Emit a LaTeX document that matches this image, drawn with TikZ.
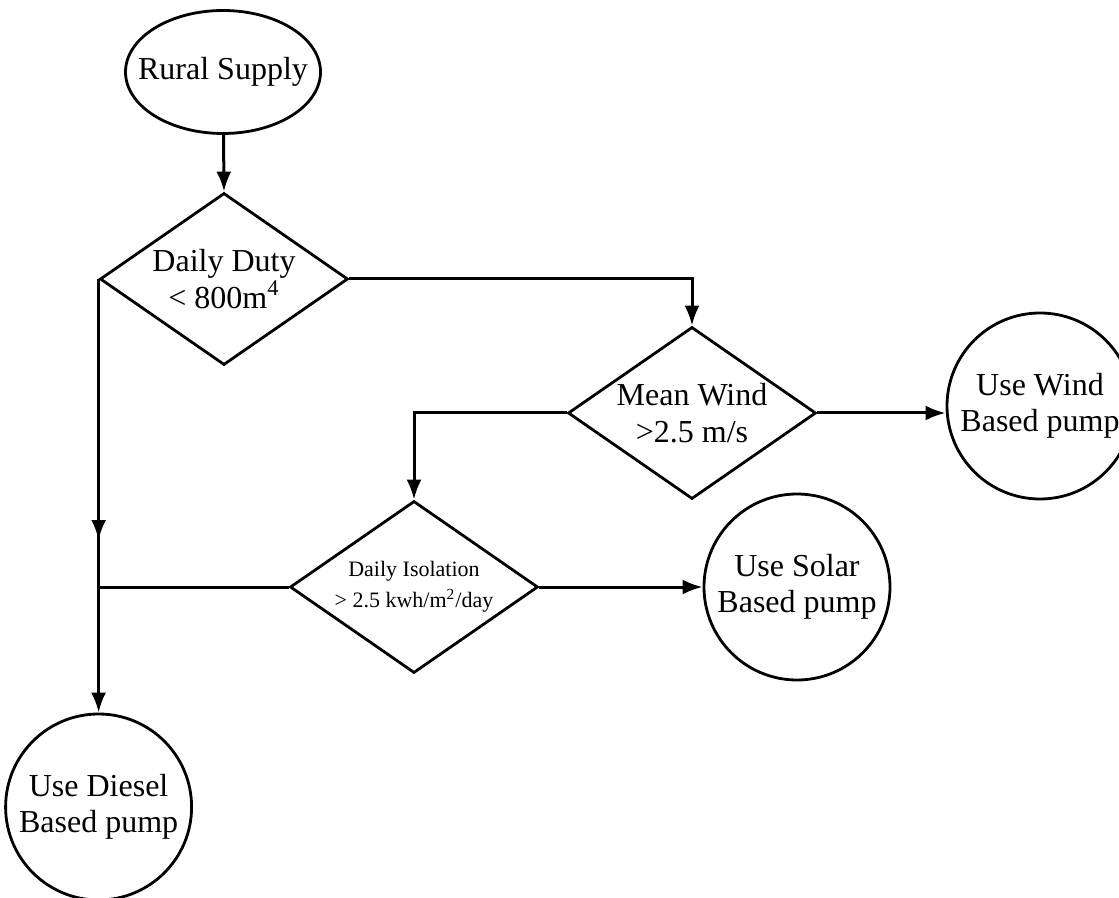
\documentclass[tikz,border=0pt]{standalone}
\usepackage{fontspec}
\setmainfont{Liberation Serif}
\usetikzlibrary{shapes,arrows.meta,positioning}

\begin{document}
\begin{tikzpicture}[x=0.5pt,y=-0.5pt,
  supply/.style={draw,ellipse,line width=1.4pt,minimum width=97.5pt,minimum height=61.5pt,inner xsep=-8pt,inner ysep=0pt,font=\fontsize{16}{18}\selectfont},
  decision/.style={draw,diamond,aspect=1.44,line width=1.4pt,minimum width=124pt,minimum height=86pt,inner sep=0pt,align=center,font=\fontsize{16}{18.5}\selectfont},
  pump/.style={draw,circle,line width=1.4pt,minimum size=93pt,inner sep=0pt,align=center,font=\fontsize{16}{18}\selectfont},
  flow/.style={line width=1.5pt,-{Latex[length=10pt,width=7.5pt]}},
  link/.style={line width=1.5pt}]
\useasboundingbox (0,0) rectangle (1119,898);
\node[supply] (S) at (223,72) {Rural Supply};
\node[decision] (D1) at (224,279) {Daily Duty\\< 800m\textsuperscript{4}};
\node[decision] (D2) at (692,413) {Mean Wind\\>2.5 m/s};
\node[decision,font=\fontsize{11}{15.5}\selectfont] (D3) at (414,587) {Daily Isolation\\> 2.5 kwh/m\textsuperscript{2}/day};
\node[pump] (P1) at (1040,406) {Use Wind\\Based pump};
\node[pump] (P2) at (797,587) {Use Solar\\Based pump};
\node[pump] (P3) at (D1.west |- 0,807) {Use Diesel\\Based pump};
\coordinate (A) at (D1.west |- 0,540);
% connectors
\draw[flow] (S) -- (D1.north);
\draw[flow] (D1.east) -| (D2.north);
\draw[flow] (D2.east) -- (D2.east -| P1.west);
\draw[flow] (D2.west) -| (D3.north);
\draw[flow] (D3.east) -- (P2.west);
\draw[flow] (D1.west) -- (A);
\draw[flow] (D1.west) -- (P3.north);
\draw[link] (D3.west) -- (D3.west -| A);
\end{tikzpicture}
\end{document}
